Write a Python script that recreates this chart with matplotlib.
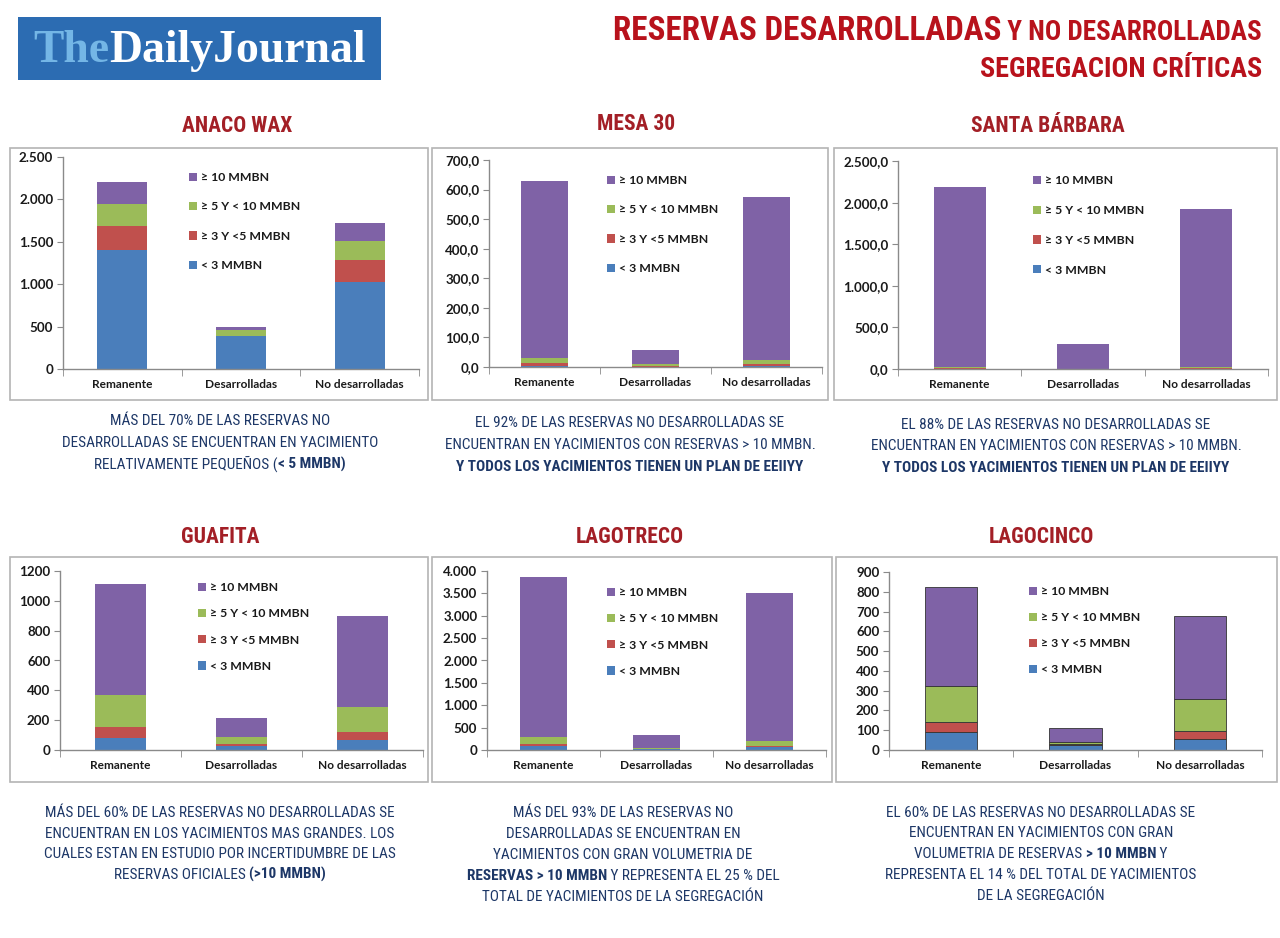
import matplotlib
matplotlib.use('Agg')
import matplotlib.pyplot as plt
from matplotlib import font_manager as fm
from matplotlib.patches import Rectangle, Patch
from matplotlib.ticker import FuncFormatter, MultipleLocator, FixedLocator
import numpy as np

W, H = 1280, 938

# ---------------- DATA ----------------
categories = ['Remanente', 'Desarrolladas', 'No desarrolladas']
series_labels = ['< 3 MMBN', '≥ 3 Y <5 MMBN', '≥ 5 Y < 10 MMBN', '≥ 10 MMBN']

anaco_lt3 = [1400, 385, 1030]
anaco_3to5 = [286, 10, 250]
anaco_5to10 = [264, 68, 228]
anaco_ge10 = [251, 35, 218]

mesa_lt3 = [2, 1, 2]
mesa_3to5 = [10, 2, 8]
mesa_5to10 = [20, 7, 12]
mesa_ge10 = [598, 47, 553]

sb_lt3 = [3, 0, 3]
sb_3to5 = [5, 1, 5]
sb_5to10 = [15, 3, 20]
sb_ge10 = [2167, 291, 1897]

guaf_lt3 = [83, 28, 67]
guaf_3to5 = [73, 14, 56]
guaf_5to10 = [213, 48, 163]
guaf_ge10 = [741, 122, 612]

ltreco_lt3 = [95, 15, 65]
ltreco_3to5 = [35, 5, 32]
ltreco_5to10 = [160, 30, 105]
ltreco_ge10 = [3585, 290, 3298]

lcinco_lt3 = [90, 25, 55]
lcinco_3to5 = [50, 5, 42]
lcinco_5to10 = [182, 12, 160]
lcinco_ge10 = [500, 70, 423]

chart_titles = ['ANACO WAX', 'MESA 30', 'SANTA BÁRBARA', 'GUAFITA', 'LAGOTRECO', 'LAGOCINCO']

# ---------------- FONTS ----------------
def has_font(name, **kw):
    try:
        fm.findfont(fm.FontProperties(family=name, **kw), fallback_to_default=False)
        return True
    except Exception:
        return False


COND = 'DejaVu Sans'
for c in ['Roboto Condensed', 'Liberation Sans Narrow', 'Archivo Narrow', 'Asap Condensed']:
    if has_font(c):
        COND = c
        break
CHART = 'Lato' if has_font('Lato') else 'DejaVu Sans'
SERIF = 'Liberation Serif' if has_font('Liberation Serif') else 'DejaVu Serif'

colors = ['#4a7ebb', '#c0504d', '#9bbb59', '#7f62a6']

fig = plt.figure(figsize=(W / 100, H / 100), dpi=100)
fig.patch.set_facecolor('white')
renderer = fig.canvas.get_renderer()


def fx(x):
    return x / W


def fy(y):
    return 1 - y / H


def text_width(s, **kw):
    t = fig.text(0, 0, '|' + s + '|', **kw)
    w1 = t.get_window_extent(renderer).width
    t.remove()
    t = fig.text(0, 0, '||', **kw)
    w0 = t.get_window_extent(renderer).width
    t.remove()
    return w1 - w0


def mixed_line(xc, y, segments, size, color, family):
    widths = [text_width(s, fontsize=size, family=family, fontweight='bold' if b else 'normal') for s, b in segments]
    x = xc - sum(widths) / 2
    for (s, b), w in zip(segments, widths):
        fig.text(fx(x), fy(y), s, fontsize=size, family=family, color=color,
                 fontweight='bold' if b else 'normal', va='baseline', ha='left')
        x += w


# ---------------- HEADER ----------------
fig.add_artist(Rectangle((fx(18), fy(80)), fx(381) - fx(18), fy(17) - fy(80),
                         transform=fig.transFigure, facecolor='#2c6cb2', edgecolor='none'))
logo_w = text_width('TheDailyJournal', fontsize=30, family=SERIF, fontweight='bold')
logo_size = 30 * 332 / logo_w
w_the = text_width('The', fontsize=logo_size, family=SERIF, fontweight='bold')
fig.text(fx(33), fy(62), 'The', fontsize=logo_size, family=SERIF, fontweight='bold', color='#74b6e6', va='baseline')
fig.text(fx(33 + w_the), fy(62), 'DailyJournal', fontsize=logo_size, family=SERIF, fontweight='bold',
         color='white', va='baseline')

title_red = '#b8121c'
big = 'RESERVAS DESARROLLADAS'
small = ' Y NO DESARROLLADAS'
wb = text_width(big, fontsize=20, family=COND, fontweight='bold')
ws = text_width(small, fontsize=20 * 0.82, family=COND, fontweight='bold')
s1 = 20 * 650 / (wb + ws)
fig.text(fx(1262), fy(40), small, fontsize=s1 * 0.82, family=COND, fontweight='bold', color=title_red,
         ha='right', va='baseline')
fig.text(fx(1262 - ws * s1 / 20), fy(40), big, fontsize=s1, family=COND, fontweight='bold', color=title_red,
         ha='right', va='baseline')
w2 = text_width('SEGREGACION CRÍTICAS', fontsize=20, family=COND, fontweight='bold')
fig.text(fx(1262), fy(77), 'SEGREGACION CRÍTICAS', fontsize=20 * 282 / w2, family=COND, fontweight='bold',
         color=title_red, ha='right', va='baseline')

# ---------------- CHARTS ----------------
panels = [
    dict(box=(10, 148, 428, 400), ax=(63, 157, 419, 369), ymax=2500, step=500, fmt='dot0',
         data=[anaco_lt3, anaco_3to5, anaco_5to10, anaco_ge10], leg=(189, 172), pitch=29.8, tpos=(237, 126)),
    dict(box=(432, 148, 828, 400), ax=(489, 160, 822, 367), ymax=700, step=100, fmt='dec1',
         data=[mesa_lt3, mesa_3to5, mesa_5to10, mesa_ge10], leg=(607, 175), pitch=29.8, tpos=(636, 124)),
    dict(box=(834, 148, 1277, 400), ax=(898, 161, 1268, 369), ymax=2500, step=500, fmt='dot1',
         data=[sb_lt3, sb_3to5, sb_5to10, sb_ge10], leg=(1033, 175), pitch=30.3, tpos=(1048, 126)),
    dict(box=(10, 557, 428, 782), ax=(60, 571, 423, 750), ymax=1200, step=200, fmt='plain',
         data=[guaf_lt3, guaf_3to5, guaf_5to10, guaf_ge10], leg=(198, 582), pitch=26.7, tpos=(220, 537)),
    dict(box=(432, 557, 832, 782), ax=(487, 571, 826, 750), ymax=4000, step=500, fmt='dot0',
         data=[ltreco_lt3, ltreco_3to5, ltreco_5to10, ltreco_ge10], leg=(607, 587), pitch=26.7, tpos=(630, 537)),
    dict(box=(836, 557, 1277, 782), ax=(889, 572, 1262, 750), ymax=900, step=100, fmt='plain',
         data=[lcinco_lt3, lcinco_3to5, lcinco_5to10, lcinco_ge10], leg=(1029, 586), pitch=26.4, tpos=(1041, 537),
         edge=True),
]


def make_fmt(kind):
    def f(v, pos):
        if kind == 'dot0':
            return f'{int(round(v)):,}'.replace(',', '.')
        if kind == 'dot1':
            return f'{v:,.1f}'.replace(',', 'X').replace('.', ',').replace('X', '.')
        if kind == 'dec1':
            return f'{v:.1f}'.replace('.', ',')
        return f'{int(round(v))}'
    return FuncFormatter(f)


axis_gray = '#8a8a8a'
for p, title in zip(panels, chart_titles):
    bx0, by0, bx1, by1 = p['box']
    fig.add_artist(Rectangle((fx(bx0), fy(by1)), fx(bx1) - fx(bx0), fy(by0) - fy(by1),
                             transform=fig.transFigure, fill=False, edgecolor='#b4b4b4', lw=1.2))
    ax0, ay0, ax1, ay1 = p['ax']
    ax = fig.add_axes([fx(ax0), fy(ay1), fx(ax1) - fx(ax0), fy(ay0) - fy(ay1)])
    x = np.arange(len(categories))
    bottom = np.zeros(len(categories))
    for vals, col in zip(p['data'], colors):
        ax.bar(x, vals, width=0.42, bottom=bottom, color=col,
               edgecolor='#333333' if p.get('edge') else col, linewidth=0.6 if p.get('edge') else 0)
        bottom += np.array(vals, dtype=float)
    ax.set_xlim(-0.5, 2.5)
    ax.set_ylim(0, p['ymax'])
    ax.yaxis.set_major_locator(MultipleLocator(p['step']))
    ax.yaxis.set_major_formatter(make_fmt(p['fmt']))
    ax.set_xticks(x)
    ax.set_xticklabels(categories)
    ax.xaxis.set_minor_locator(FixedLocator([-0.5, 0.5, 1.5, 2.5]))
    ax.tick_params(axis='x', which='major', length=0, pad=7)
    ax.tick_params(axis='x', which='minor', length=5, color=axis_gray, direction='out')
    ax.tick_params(axis='y', length=4, color=axis_gray, direction='out', pad=3)
    for lab in ax.get_xticklabels():
        lab.set_fontfamily(CHART)
        lab.set_fontweight('bold')
        lab.set_fontsize(8.6)
        lab.set_color('#1a1a1a')
    for lab in ax.get_yticklabels():
        lab.set_fontfamily(CHART)
        lab.set_fontweight('bold')
        lab.set_fontsize(9.6)
        lab.set_color('#1a1a1a')
    for s in ['top', 'right']:
        ax.spines[s].set_visible(False)
    for s in ['left', 'bottom']:
        ax.spines[s].set_color(axis_gray)
        ax.spines[s].set_linewidth(1)
    ax.patch.set_alpha(0)
    handles = [Patch(facecolor=c, edgecolor='none') for c in colors][::-1]
    labels = series_labels[::-1]
    lx, ly = p['leg']
    fs = 8.8
    fs_px = fs * 100 / 72
    ls = (p['pitch'] + 3.0 - 1.18 * fs_px) / fs_px
    leg = ax.legend(handles, labels, loc='upper left',
                    bbox_to_anchor=((lx - ax0) / (ax1 - ax0), (ay1 - ly) / (ay1 - ay0)),
                    frameon=False, borderpad=0, borderaxespad=0, handlelength=0.65, handleheight=0.65,
                    handletextpad=0.35, labelspacing=ls,
                    prop=fm.FontProperties(family=CHART, weight='bold', size=fs))
    for t in leg.get_texts():
        t.set_color('#1a1a1a')
    tx, ty = p['tpos']
    fig.text(fx(tx), fy(ty), title, fontsize=15.5, family=COND, fontweight='bold', color='#a31f26',
             ha='center', va='center')

# ---------------- ANNOTATIONS ----------------
navy = '#1d3767'
ann_size = 11
annotations = [
    (220, [425, 447, 469], [
        [('MÁS DEL 70% DE LAS RESERVAS NO', False)],
        [('DESARROLLADAS SE ENCUENTRAN EN YACIMIENTO', False)],
        [('RELATIVAMENTE PEQUEÑOS (', False), ('< 5 MMBN)', True)],
    ]),
    (630, [427, 449, 471], [
        [('EL 92% DE LAS RESERVAS NO DESARROLLADAS SE', False)],
        [('ENCUENTRAN EN YACIMIENTOS CON RESERVAS > 10 MMBN.', False)],
        [('Y TODOS LOS YACIMIENTOS TIENEN UN PLAN DE EEIIYY', True)],
    ]),
    (1056, [429, 450, 472], [
        [('EL 88% DE LAS RESERVAS NO DESARROLLADAS SE', False)],
        [('ENCUENTRAN EN YACIMIENTOS CON RESERVAS > 10 MMBN.', False)],
        [('Y TODOS LOS YACIMIENTOS TIENEN UN PLAN DE EEIIYY', True)],
    ]),
    (220, [817, 838, 858, 879], [
        [('MÁS DEL 60% DE LAS RESERVAS NO DESARROLLADAS SE', False)],
        [('ENCUENTRAN EN LOS YACIMIENTOS MAS GRANDES. LOS', False)],
        [('CUALES ESTAN EN ESTUDIO POR INCERTIDUMBRE DE LAS', False)],
        [('RESERVAS OFICIALES ', False), ('(>10 MMBN)', True)],
    ]),
    (623, [817, 838, 859, 880, 901], [
        [('MÁS DEL 93% DE LAS RESERVAS NO', False)],
        [('DESARROLLADAS SE ENCUENTRAN EN', False)],
        [('YACIMIENTOS CON GRAN VOLUMETRIA DE', False)],
        [('RESERVAS > 10 MMBN', True), (' Y REPRESENTA EL 25 % DEL', False)],
        [('TOTAL DE YACIMIENTOS DE LA SEGREGACIÓN', False)],
    ]),
    (1041, [817, 837, 858, 879, 900], [
        [('EL 60% DE LAS RESERVAS NO DESARROLLADAS SE', False)],
        [('ENCUENTRAN EN YACIMIENTOS CON GRAN', False)],
        [('VOLUMETRIA DE RESERVAS ', False), ('> 10 MMBN', True), (' Y', False)],
        [('REPRESENTA EL 14 % DEL TOTAL DE YACIMIENTOS', False)],
        [('DE LA SEGREGACIÓN', False)],
    ]),
]
for xc, ys, lines in annotations:
    for y, segs in zip(ys, lines):
        mixed_line(xc, y, segs, ann_size, navy, COND)

fig.savefig('out.png', dpi=100, facecolor='white')
